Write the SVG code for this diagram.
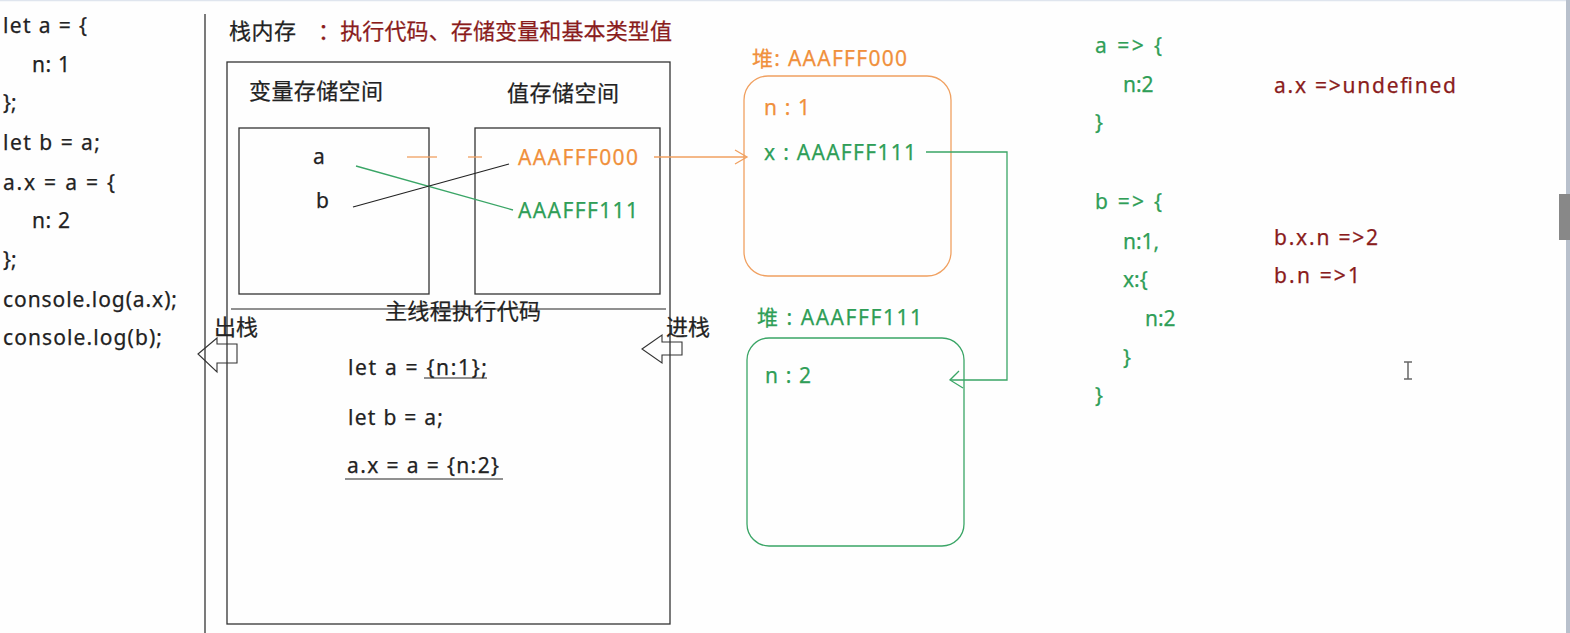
<svg xmlns="http://www.w3.org/2000/svg" width="1570" height="633" viewBox="0 0 1570 633">
<defs>
<style>
text{font-family:"Noto Sans","Noto Sans CJK SC",sans-serif;font-size:21px;fill:#222;stroke:#222;stroke-width:0.25}
.cjk{font-family:"Noto Sans CJK SC",sans-serif;font-size:22px}
.or{fill:#f0903c;stroke:#f0903c}
.gr{fill:#2f9e57;stroke:#2f9e57}
.dr{fill:#8a1c1c;stroke:#8a1c1c}
.box{fill:none;stroke:#333;stroke-width:1.3}
.ln{fill:none;stroke:#222;stroke-width:1.2}
.ol{fill:none;stroke:#f0a060;stroke-width:1.3}
.gl{fill:none;stroke:#3aa566;stroke-width:1.3}
</style>
</defs>
<rect width="1570" height="633" fill="#fefefe"/>
<line x1="0" y1="0.5" x2="1570" y2="0.5" stroke="#dfe5ee" stroke-width="1.5"/>
<rect x="1566" y="0" width="4" height="633" fill="#b8c0cc"/>
<rect x="1559" y="194" width="11" height="46" fill="#888"/>

<g id="left-code">
<text x="3" y="33" textLength="84" lengthAdjust="spacing">let a = {</text>
<text x="32" y="72" textLength="38" lengthAdjust="spacing">n: 1</text>
<text x="3" y="110">};</text>
<text x="3" y="150" textLength="97" lengthAdjust="spacing">let b = a;</text>
<text x="3" y="190" textLength="112" lengthAdjust="spacing">a.x = a = {</text>
<text x="32" y="228" textLength="38" lengthAdjust="spacing">n: 2</text>
<text x="3" y="267">};</text>
<text x="3" y="307" textLength="174" lengthAdjust="spacing">console.log(a.x);</text>
<text x="3" y="345" textLength="159" lengthAdjust="spacing">console.log(b);</text>
</g>

<line x1="205" y1="14" x2="205" y2="633" class="ln"/>

<g id="stack">
<text x="229" y="39" class="cjk" textLength="67" lengthAdjust="spacing">栈内存</text>
<text x="318" y="39" class="cjk dr" textLength="354" lengthAdjust="spacing">：执行代码、存储变量和基本类型值</text>
<rect x="227" y="62" width="443" height="562" class="box"/>
<line x1="231" y1="309" x2="666" y2="309" class="ln"/>
<text x="385" y="319" class="cjk" textLength="156" lengthAdjust="spacing">主线程执行代码</text>
</g>

<g id="var-space">
<text x="249" y="99" class="cjk" textLength="134" lengthAdjust="spacing">变量存储空间</text>
<rect x="239" y="128" width="190" height="166" class="box"/>
<text x="313" y="164">a</text>
<text x="316" y="208">b</text>
</g>

<g id="value-space">
<text x="507" y="101" class="cjk" textLength="112" lengthAdjust="spacing">值存储空间</text>
<rect x="475" y="128" width="185" height="166" class="box"/>
<text x="518" y="165" class="or" textLength="120" lengthAdjust="spacing">AAAFFF000</text>
<text x="518" y="218" class="gr" textLength="120" lengthAdjust="spacing">AAAFFF111</text>
</g>

<g id="main-thread-code">
<text x="348" y="375" textLength="139" lengthAdjust="spacing">let a = {n:1};</text>
<line x1="424" y1="378" x2="487" y2="378" class="ln"/>
<text x="348" y="425" textLength="95" lengthAdjust="spacing">let b = a;</text>
<text x="347" y="473" textLength="152" lengthAdjust="spacing">a.x = a = {n:2}</text>
<line x1="345" y1="479" x2="503" y2="479" class="ln"/>
</g>

<g id="pop">
<text x="214" y="335" class="cjk">出栈</text>
<polygon points="198,354 217,338 217,344 237,344 237,363 217,363 217,372" fill="none" stroke="#333" stroke-width="1.1"/>
</g>
<g id="push">
<text x="666" y="335" class="cjk">进栈</text>
<polygon points="642,349 662,335 662,342 682,342 682,355 662,355 662,363" fill="none" stroke="#333" stroke-width="1.1"/>
</g>

<g id="heap-000">
<text x="752" y="66" class="or" textLength="155" lengthAdjust="spacing">堆: AAAFFF000</text>
<rect x="744" y="76" width="207" height="200" rx="24" ry="24" class="ol"/>
<text x="764" y="115" class="or" textLength="46" lengthAdjust="spacing">n : 1</text>
<text x="764" y="160" class="gr" textLength="152" lengthAdjust="spacing">x : AAAFFF111</text>
</g>

<g id="heap-111">
<text x="757" y="325" class="gr" textLength="165" lengthAdjust="spacing">堆 : AAAFFF111</text>
<rect x="747" y="338" width="217" height="208" rx="22" ry="22" class="gl"/>
<text x="765" y="383" class="gr" textLength="46" lengthAdjust="spacing">n : 2</text>
</g>

<g id="connectors">
<line x1="356" y1="166" x2="513" y2="210" class="gl"/>
<line x1="353" y1="207" x2="509" y2="164" stroke="#222" stroke-width="1.2"/>
<line x1="407" y1="157" x2="437" y2="157" class="ol"/>
<line x1="468" y1="157" x2="482" y2="157" class="ol"/>
<polyline points="654,157 746,157" class="ol"/>
<polyline points="735,150 747,157 735,164" class="ol"/>
<polyline points="926,152 1007,152 1007,380 951,380" class="gl"/>
<polyline points="959,371 950,380 963,388" class="gl"/>
</g>

<g id="results">
<text x="1095" y="53" class="gr" textLength="67" lengthAdjust="spacing">a =&gt; {</text>
<text x="1123" y="92" class="gr">n:2</text>
<text x="1095" y="130" class="gr">}</text>
<text x="1095" y="209" class="gr" textLength="67" lengthAdjust="spacing">b =&gt; {</text>
<text x="1123" y="249" class="gr">n:1,</text>
<text x="1123" y="287" class="gr">x:{</text>
<text x="1145" y="326" class="gr">n:2</text>
<text x="1123" y="365" class="gr">}</text>
<text x="1095" y="403" class="gr">}</text>
<text x="1274" y="93" class="dr" textLength="182" lengthAdjust="spacing">a.x =&gt;undefined</text>
<text x="1274" y="245" class="dr" textLength="104" lengthAdjust="spacing">b.x.n =&gt;2</text>
<text x="1274" y="283" class="dr" textLength="86" lengthAdjust="spacing">b.n =&gt;1</text>
</g>

<g id="cursor" stroke="#666" stroke-width="1.5" fill="none">
<line x1="1408" y1="362" x2="1408" y2="379"/>
<line x1="1404" y1="362" x2="1412" y2="362"/>
<line x1="1404" y1="379" x2="1412" y2="379"/>
</g>
</svg>
